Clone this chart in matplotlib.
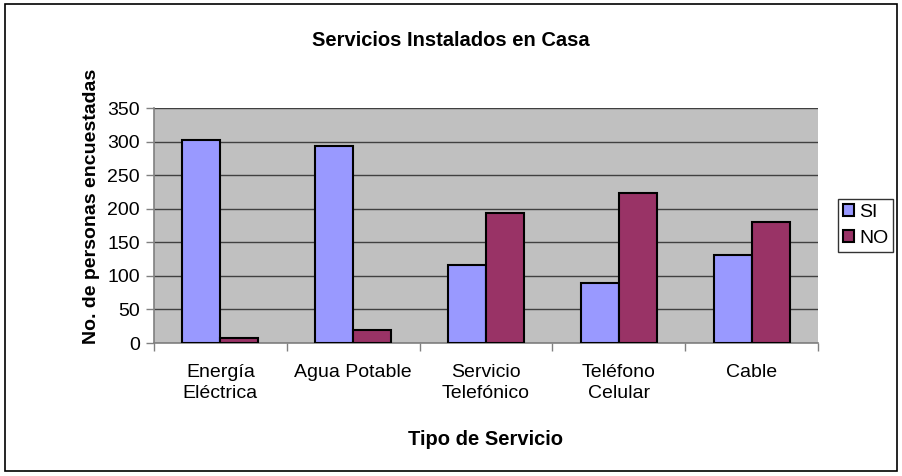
import numpy as np
import matplotlib.pyplot as plt
from matplotlib.patches import Rectangle

plt.rcParams['font.family'] = ['Liberation Sans', 'DejaVu Sans']

categorias = ["Energía\nEléctrica", "Agua Potable", "Servicio\nTelefónico", "Teléfono\nCelular", "Cable"]
si = [303, 293, 116, 89, 131]
no = [8, 20, 194, 223, 180]

fig = plt.figure(figsize=(9.02, 4.76), dpi=100)
fig.patches.append(Rectangle((0.005, 0.01), 0.99, 0.982, transform=fig.transFigure,
                             fill=False, edgecolor="black", linewidth=1.2))

ax = fig.add_axes([0.1707, 0.2794, 0.7362, 0.4937])
ax.set_facecolor("#C0C0C0")

x = np.arange(len(categorias))
w = 0.2857
ax.bar(x - w / 2, si, w, color="#9999FF", edgecolor="black", linewidth=1.5, label="SI", zorder=3)
ax.bar(x + w / 2, no, w, color="#993366", edgecolor="black", linewidth=1.5, label="NO", zorder=3)

ax.set_xlim(-0.5, len(categorias) - 0.5)
ax.set_ylim(0, 350)
ax.set_yticks(range(0, 351, 50))
ax.yaxis.grid(True, color="#404040", linewidth=1, zorder=1)

ax.set_xticks(x)
ax.set_xticklabels(categorias, fontsize=14, linespacing=1.3)
ax.tick_params(axis="x", length=0, pad=15)
ax.set_xticks(np.arange(-0.5, len(categorias), 1), minor=True)
ax.tick_params(axis="x", which="minor", length=6, color="#808080", width=1)
ax.tick_params(axis="y", length=6, labelsize=14, color="#808080", width=1, pad=4)

for lado in ["top", "right"]:
    ax.spines[lado].set_visible(False)
for lado in ["left", "bottom"]:
    ax.spines[lado].set_color("#808080")
    ax.spines[lado].set_linewidth(1.2)

ax.set_xlabel("Tipo de Servicio", fontsize=14.5, fontweight="bold", labelpad=20)
ax.set_ylabel("No. de personas encuestadas", fontsize=14, fontweight="bold")
ax.yaxis.set_label_coords(-0.082, 0.58)
fig.text(0.5, 0.915, "Servicios Instalados en Casa", ha="center", va="center",
         fontsize=14.5, fontweight="bold")

leg = ax.legend(loc="center left", bbox_to_anchor=(1.03, 0.5), frameon=True, fancybox=False,
                fontsize=14, handlelength=0.6, handleheight=0.6, handletextpad=0.25,
                borderpad=0.25, labelspacing=0.45, borderaxespad=0)
leg.get_frame().set_edgecolor("black")
leg.get_frame().set_linewidth(1)

fig.savefig("out.png", dpi=100)
